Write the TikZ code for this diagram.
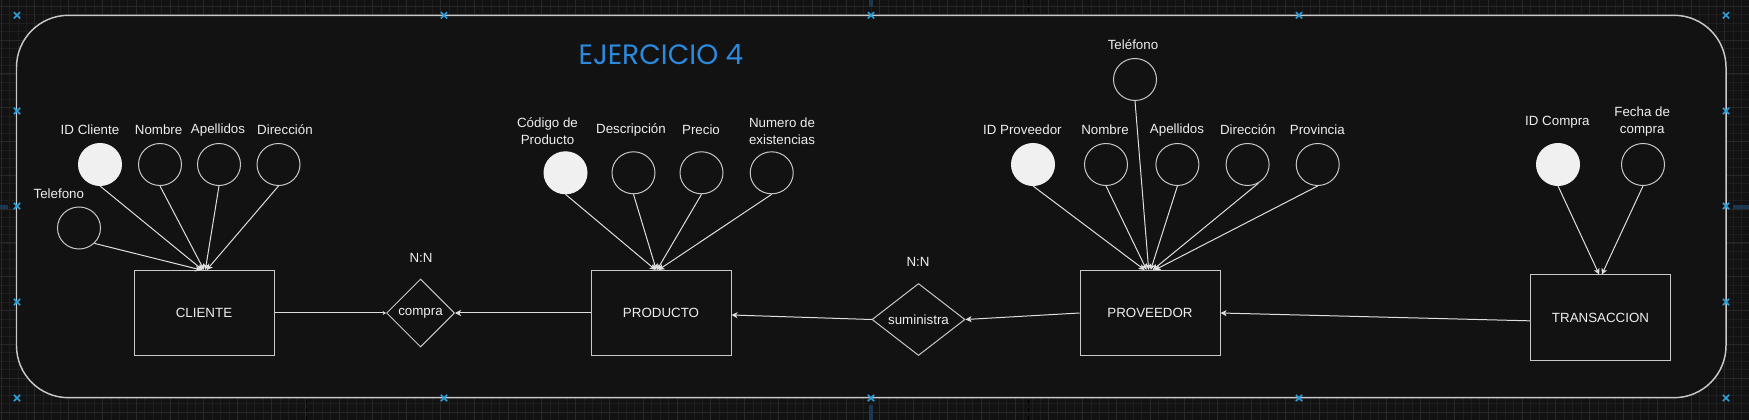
\documentclass[tikz,border=0pt]{standalone}
\usepackage{fontspec}
\setmainfont{Liberation Sans}
\newfontfamily\titlefont{Poppins}
\usepackage{xcolor}
\definecolor{er-bg}{RGB}{18, 18, 18}
\definecolor{er-grid}{RGB}{30, 30, 30}
\definecolor{er-grid-major}{RGB}{40, 40, 40}
\definecolor{er-line}{RGB}{200, 200, 200}
\definecolor{er-arrow}{RGB}{222, 222, 222}
\definecolor{er-text}{RGB}{238, 238, 238}
\definecolor{er-key}{RGB}{240, 240, 240}
\definecolor{er-title}{RGB}{44, 138, 222}
\definecolor{er-handle}{RGB}{41, 161, 221}
\definecolor{er-hover}{RGB}{28, 56, 80}
\usepackage{tikz}
\usetikzlibrary{shapes.geometric, shapes.misc, arrows.meta}
\tikzset{
  % --- ER SHAPES ---
  entity/.style={
    draw=er-line,
    line width=0.75pt,
    text=er-text,
    font=\fontsize{10}{12.5}\selectfont,
    minimum width=105pt,
    minimum height=63.75pt,
    inner sep=0pt
  },
  attribute/.style={
    ellipse,
    draw=er-line,
    line width=0.75pt,
    minimum width=32.25pt,
    minimum height=31.5pt,
    inner sep=0pt
  },
  key-attribute/.style={
    attribute,
    fill=er-key,
    draw=er-key
  },
  relation/.style={
    diamond,
    draw=er-line,
    fill=er-bg,
    line width=0.75pt,
    text=er-text,
    font=\fontsize{10}{12.5}\selectfont,
    inner sep=0pt
  },
  % --- LABELS ---
  attr-label/.style={
    text=er-text,
    font=\fontsize{10}{12.75}\selectfont,
    align=center,
    inner sep=0pt
  },
  card-label/.style={attr-label},
  title-label/.style={
    text=er-title,
    font=\titlefont\fontsize{21}{25}\selectfont,
    inner sep=0pt
  },
  % --- ARROWS ---
  arrw/.style={
    draw=er-arrow,
    line width=0.75pt,
    -{Stealth[length=4.5pt, width=4.5pt, inset=1.2pt]}
  },
  arrw-small/.style={
    draw=er-arrow,
    line width=0.75pt,
    -{Stealth[length=2.5pt, width=3pt, inset=0.8pt]}
  },
  % --- CANVAS ---
  grid-minor/.style={draw=er-grid, line width=0.5pt},
  grid-major/.style={draw=er-grid-major, line width=0.6pt},
  page-break/.style={draw=er-grid-major!150, line width=0.6pt, dashed},
  frame-box/.style={
    draw=er-line,
    fill=er-bg,
    line width=1.1pt,
    rounded corners=39pt
  },
  handle/.style={
    cross out,
    draw=er-handle,
    line width=1.2pt,
    minimum size=3.5pt,
    inner sep=0pt
  },
  hover-arrow/.style={
    draw=er-hover,
    line width=3.5pt,
    -{Triangle[length=5pt, width=8pt]}
  },
}
\begin{document}
\begin{tikzpicture}[x=0.75pt, y=-0.75pt]
  \useasboundingbox (0,0) rectangle (1749,420);
  % --- canvas with grid
  \fill[er-bg] (0,0) rectangle (1749,420);
  \foreach \gx in {1,9.45,...,1750} \draw[grid-minor] (\gx,0) -- (\gx,420);
  \foreach \gy in {-2.15,6.3,...,421} \draw[grid-minor] (0,\gy) -- (1749,\gy);
  \foreach \gx in {1,34.8,...,1750} \draw[grid-major] (\gx,0) -- (\gx,420);
  \foreach \gy in {6.3,40.1,...,421} \draw[grid-major] (0,\gy) -- (1749,\gy);
  \draw[page-break] (306,0) -- (306,420);
  \draw[page-break] (1028,0) -- (1028,420);
  % --- container
  \draw[frame-box] (16.5,15.3) rectangle (1726,397.7);
  % --- selection handles
  \foreach \hx/\hy [count=\i] in {17/15.3, 444/15.3, 871/15.3, 1299/15.3, 1726/15.3,
      17/398, 444/398, 871/398, 1299/398, 1726/398,
      17/111, 17/206, 17/302, 1726/111, 1726/206, 1726/302}
    \node[handle] (h\i) at (\hx,\hy) {};
  \draw[hover-arrow] (871,7) -- (871,-12);
  \draw[hover-arrow] (871,405) -- (871,432);
  \draw[hover-arrow] (1733,207) -- (1756,207);
  \draw[hover-arrow] (8,207) -- (-14,207);
  % --- title
  \node[title-label] (title) at (661,55) {EJERCICIO 4};

  % --- entities
  \node[entity] (cliente)     at (204,313)    {CLIENTE};
  \node[entity] (producto)    at (661,313)    {PRODUCTO};
  \node[entity] (proveedor)   at (1150,313)   {PROVEEDOR};
  \node[entity] (transaccion) at (1600.5,317.5) {TRANSACCION};
  % --- relations
  \node[relation, minimum width=51pt, minimum height=51pt]
    (compra) at (420.5,313) {compra};
  \node[relation, minimum width=69.75pt, minimum height=54pt]
    (suministra) at (918.5,319.5) {suministra};
  \node[card-label] (card-compra)     at (421,258) {N:N};
  \node[card-label] (card-suministra) at (918,262) {N:N};

  % --- cliente attributes
  \node[key-attribute] (idcli)   at (100,164.5) {};
  \node[attribute]     (cnombre) at (160,164.5) {};
  \node[attribute]     (capell)  at (219,164.5) {};
  \node[attribute]     (cdir)    at (278.5,164.5) {};
  \node[attribute]     (ctel)    at (79,228) {};
  \node[attr-label] (l-idcli)   at (90,130)   {ID Cliente};
  \node[attr-label] (l-cnombre) at (158.6,130) {Nombre};
  \node[attr-label] (l-capell)  at (218,130)  {Apellidos};
  \node[attr-label] (l-cdir)    at (285,130)  {Dirección};
  \node[attr-label] (l-ctel)    at (58.8,194) {Telefono};
  % --- producto attributes
  \node[key-attribute] (pcod)    at (565.5,172.8) {};
  \node[attribute]     (pdesc)   at (633.5,172.8) {};
  \node[attribute]     (pprecio) at (701.5,172.8) {};
  \node[attribute]     (pnum)    at (771.7,172.8) {};
  \node[attr-label] (l-pcod)    at (547.5,131) {Código de\\Producto};
  \node[attr-label] (l-pdesc)   at (631,130)   {Descripción};
  \node[attr-label] (l-pprecio) at (701,130)   {Precio};
  \node[attr-label] (l-pnum)    at (782,131)   {Numero de\\existencias};
  % --- proveedor attributes
  \node[key-attribute] (idprov)  at (1033,164.5) {};
  \node[attribute]     (vnombre) at (1106,164.5) {};
  \node[attribute]     (vapell)  at (1177.4,164.5) {};
  \node[attribute]     (vdir)    at (1247.6,164.5) {};
  \node[attribute]     (vprov)   at (1317.7,164.5) {};
  \node[attribute]     (vtel)    at (1135,79.5) {};
  \node[attr-label] (l-idprov)  at (1022.4,130) {ID Proveedor};
  \node[attr-label] (l-vnombre) at (1105,130)   {Nombre};
  \node[attr-label] (l-vapell)  at (1177,130)   {Apellidos};
  \node[attr-label] (l-vdir)    at (1247.8,130) {Dirección};
  \node[attr-label] (l-vprov)   at (1317.3,130) {Provincia};
  \node[attr-label] (l-vtel)    at (1133,45)    {Teléfono};
  % --- transaccion attributes
  \node[key-attribute] (idcomp) at (1558,164.5) {};
  \node[attribute]     (tfecha) at (1643,164.5) {};
  \node[attr-label] (l-idcomp) at (1557.4,122.3) {ID Compra};
  \node[attr-label] (l-tfecha) at (1642.2,121.7) {Fecha de\\compra};

  % --- attribute links
  \draw[arrw] (ctel.-45)     -- ([xshift=-2pt]cliente.north);
  \draw[arrw] (idcli.south)  -- ([xshift=-1pt]cliente.north);
  \draw[arrw] (cnombre.south) -- (cliente.north);
  \draw[arrw] (capell.south) -- ([xshift=1pt]cliente.north);
  \draw[arrw] (cdir.south)   -- ([xshift=2pt]cliente.north);
  \draw[arrw] (pcod.south)    -- ([xshift=-4pt]producto.north);
  \draw[arrw] (pdesc.south)   -- ([xshift=-3.5pt]producto.north);
  \draw[arrw] (pprecio.south) -- ([xshift=-3pt]producto.north);
  \draw[arrw] (pnum.south)    -- ([xshift=-2pt]producto.north);
  \draw[arrw] (idprov.south)  -- ([xshift=-4pt]proveedor.north);
  \draw[arrw] (vnombre.south) -- ([xshift=-2.5pt]proveedor.north);
  \draw[arrw] (vtel.south)    -- ([xshift=-1pt]proveedor.north);
  \draw[arrw] (vapell.south)  -- ([xshift=0.5pt]proveedor.north);
  \draw[arrw] (vdir.-60)      -- ([xshift=2pt]proveedor.north);
  \draw[arrw] (vprov.south)   -- ([xshift=3.5pt]proveedor.north);
  \draw[arrw] (idcomp.south)  -- ([xshift=-1pt]transaccion.north);
  \draw[arrw] (tfecha.south)  -- ([xshift=1pt]transaccion.north);
  % --- relation links
  \draw[arrw-small] (cliente.east) -- (compra.west);
  \draw[arrw] (producto.west) -- (compra.east);
  \draw[draw=er-arrow, line width=0.75pt] (suministra.west) -- ([yshift=0.5pt]suministra.west);
  \draw[arrw] (suministra.west) -- ([yshift=-1.5pt]producto.east);
  \draw[arrw] (proveedor.west) -- (suministra.east);
  \draw[arrw] ([yshift=-2.5pt]transaccion.west) -- (proveedor.east);
\end{tikzpicture}
\end{document}
